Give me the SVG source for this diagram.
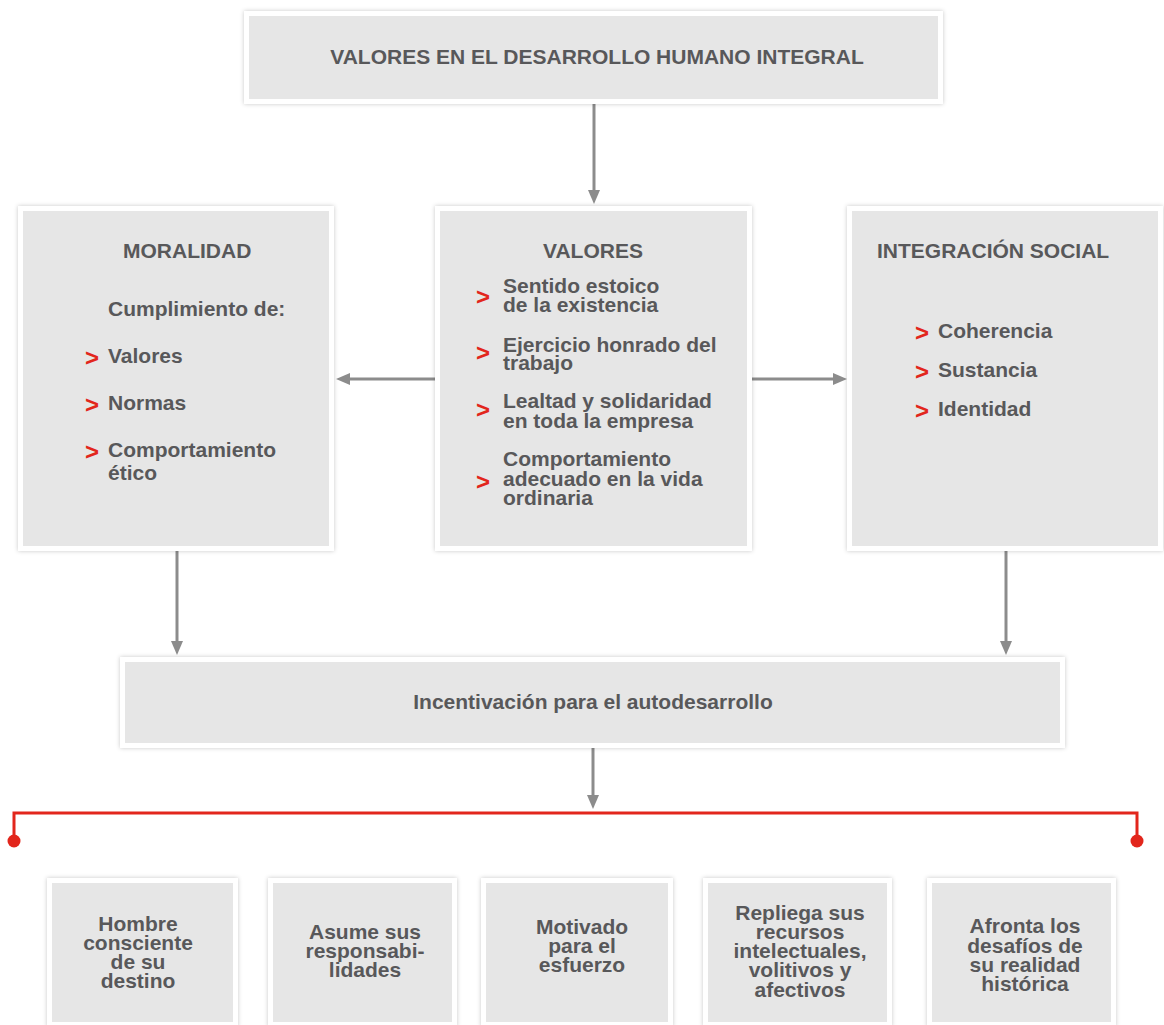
<svg xmlns="http://www.w3.org/2000/svg" width="1164" height="1025" viewBox="0 0 1164 1025">
<style>
  .box { fill: #e6e6e6; stroke: #ffffff; stroke-width: 5; filter: url(#sh); }
  text { font-family: "Liberation Sans", Arial, Helvetica, sans-serif; font-weight: bold; font-size: 21px; fill: #58585a; }
  .c { text-anchor: middle; }
  .chev { font-weight: bold; font-size: 24px; fill: #e2261c; }
  .arr { stroke: #8c8c8c; stroke-width: 3; fill: none; marker-end: url(#ah); }
  .red { stroke: #e2261c; stroke-width: 3; fill: none; }
</style>
<defs>
  <filter id="sh" x="-10%" y="-10%" width="120%" height="120%">
    <feDropShadow dx="0" dy="0" stdDeviation="2" flood-color="#000000" flood-opacity="0.22"/>
  </filter>
  <marker id="ah" markerWidth="14" markerHeight="12" refX="9" refY="6" orient="auto" markerUnits="userSpaceOnUse">
    <path d="M0,0 L14,6 L0,12 z" fill="#8c8c8c"/>
  </marker>
</defs>
<rect width="1164" height="1025" fill="#ffffff"/>

<g id="connectors">
  <line class="arr" x1="594" y1="104" x2="594" y2="199"/>
  <line class="arr" x1="435" y1="379" x2="341" y2="379"/>
  <line class="arr" x1="752" y1="379" x2="842" y2="379"/>
  <line class="arr" x1="177" y1="551" x2="177" y2="650"/>
  <line class="arr" x1="1006" y1="551" x2="1006" y2="650"/>
  <line class="arr" x1="593" y1="748" x2="593" y2="804"/>
  <polyline class="red" points="14,841 14,813 1137,813 1137,841"/>
  <circle cx="14" cy="841" r="6.5" fill="#e2261c"/>
  <circle cx="1137" cy="841" r="6.5" fill="#e2261c"/>
</g>

<g id="title">
  <rect class="box" x="246.5" y="13.5" width="694" height="88"/>
  <text class="c" x="597" y="64">VALORES EN EL DESARROLLO HUMANO INTEGRAL</text>
</g>

<g id="moralidad">
  <rect class="box" x="20.5" y="208.5" width="311" height="340"/>
  <text x="123" y="258">MORALIDAD</text>
  <text x="108" y="316">Cumplimiento de:</text>
  <text class="chev" x="85" y="366">&gt;</text>
  <text x="108" y="363">Valores</text>
  <text class="chev" x="85" y="413">&gt;</text>
  <text x="108" y="410">Normas</text>
  <text class="chev" x="85" y="460">&gt;</text>
  <text x="108" y="457">Comportamiento</text>
  <text x="108" y="480">ético</text>
</g>

<g id="valores">
  <rect class="box" x="437.5" y="208.5" width="312" height="340"/>
  <text x="543" y="258">VALORES</text>
  <text class="chev" x="476" y="305">&gt;</text>
  <text x="503" y="293">Sentido estoico</text>
  <text x="503" y="312">de la existencia</text>
  <text class="chev" x="476" y="361">&gt;</text>
  <text x="503" y="352">Ejercicio honrado del</text>
  <text x="503" y="370">trabajo</text>
  <text class="chev" x="476" y="418">&gt;</text>
  <text x="503" y="408">Lealtad y solidaridad</text>
  <text x="503" y="428">en toda la empresa</text>
  <text class="chev" x="476" y="490">&gt;</text>
  <text x="503" y="466">Comportamiento</text>
  <text x="503" y="486">adecuado en la vida</text>
  <text x="503" y="505">ordinaria</text>
</g>

<g id="integracion">
  <rect class="box" x="849.5" y="208.5" width="311" height="340"/>
  <text x="877" y="258">INTEGRACIÓN SOCIAL</text>
  <text class="chev" x="915" y="341">&gt;</text>
  <text x="938" y="338">Coherencia</text>
  <text class="chev" x="915" y="380">&gt;</text>
  <text x="938" y="377">Sustancia</text>
  <text class="chev" x="915" y="419">&gt;</text>
  <text x="938" y="416">Identidad</text>
</g>

<g id="incentivacion">
  <rect class="box" x="122.5" y="659.5" width="940" height="86"/>
  <text class="c" x="593" y="709">Incentivación para el autodesarrollo</text>
</g>

<g id="hombre">
  <rect class="box" x="49.5" y="880.5" width="186" height="144"/>
  <text class="c" x="138" y="931">Hombre</text>
  <text class="c" x="138" y="950">consciente</text>
  <text class="c" x="138" y="969">de su</text>
  <text class="c" x="138" y="988">destino</text>
</g>

<g id="asume">
  <rect class="box" x="270.5" y="880.5" width="184" height="144"/>
  <text class="c" x="365" y="939">Asume sus</text>
  <text class="c" x="365" y="958">responsabi-</text>
  <text class="c" x="365" y="977">lidades</text>
</g>

<g id="motivado">
  <rect class="box" x="483.5" y="880.5" width="187" height="144"/>
  <text class="c" x="582" y="934">Motivado</text>
  <text class="c" x="582" y="953">para el</text>
  <text class="c" x="582" y="972">esfuerzo</text>
</g>

<g id="repliega">
  <rect class="box" x="705.5" y="880.5" width="184" height="144"/>
  <text class="c" x="800" y="920">Repliega sus</text>
  <text class="c" x="800" y="939">recursos</text>
  <text class="c" x="800" y="958">intelectuales,</text>
  <text class="c" x="800" y="977">volitivos y</text>
  <text class="c" x="800" y="997">afectivos</text>
</g>

<g id="afronta">
  <rect class="box" x="929.5" y="880.5" width="184" height="144"/>
  <text class="c" x="1025" y="933">Afronta los</text>
  <text class="c" x="1025" y="953">desafíos de</text>
  <text class="c" x="1025" y="972">su realidad</text>
  <text class="c" x="1025" y="991">histórica</text>
</g>
</svg>
